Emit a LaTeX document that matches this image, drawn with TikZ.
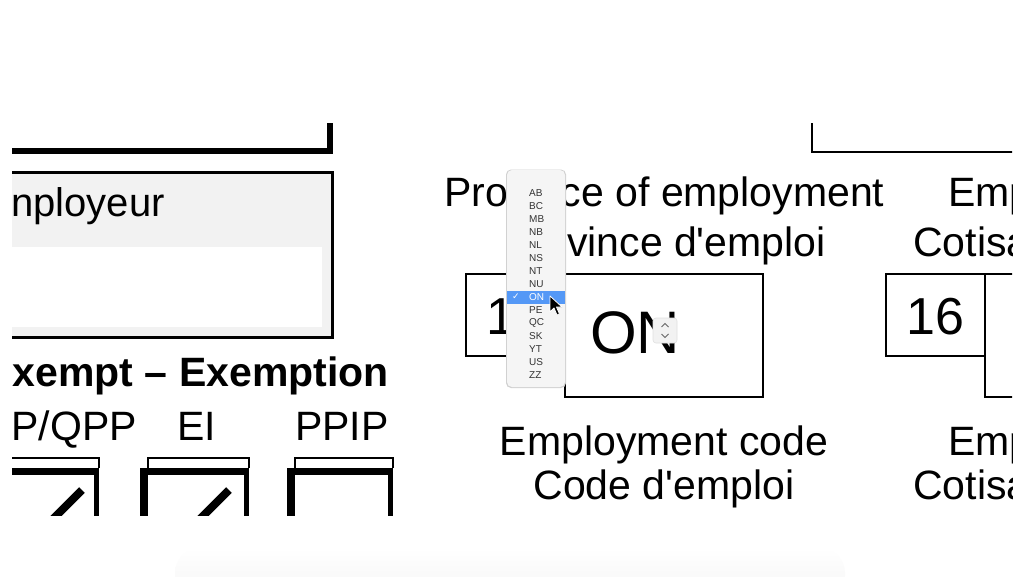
\documentclass[tikz,border=0pt]{standalone}
\usepackage{fontspec}
\setmainfont{Liberation Sans}[Ligatures=TeXOff]
\newfontfamily\symfont{DejaVu Sans}
\definecolor{selblue}{RGB}{84,152,246}
\begin{document}
\begin{tikzpicture}[x=1pt, y=-1pt,
  lbl/.style={inner sep=0pt, anchor=base, font=\fontsize{41}{49}\selectfont},
  big/.style={inner sep=0pt, anchor=base, font=\fontsize{52}{60}\selectfont},
  item/.style={inner sep=0pt, anchor=west, font=\fontsize{10}{12}\selectfont},
  frame/.style={line width=2.5pt, line join=miter}]
\useasboundingbox (0,0) rectangle (1024,576);
\fill[white] (0,0) rectangle (1024,576);

% faint shadow at the bottom
\shade[top color=white, bottom color=black!4, rounded corners=25pt] (175,548) -- (175,600) -- (845,600) -- (845,548) -- cycle;

\begin{scope}
\clip (12,123) rectangle (1012,515);

% left part of the form
\draw[line width=6pt, line join=miter] (0,151) -- (330,151) -- (330,110);
\fill[black!5] (0,172) rectangle (332,337);
\fill[white] (0,247) rectangle (322,327);
\draw[line width=3pt, line join=miter] (0,172) -- (332,172) -- (332,337) -- (0,337);
\node[lbl, anchor=base east, font=\fontsize{40}{48}\selectfont] (employeur) at (165,216) {nployeur};
\node[lbl, anchor=base east, font=\fontsize{41}{49}\selectfont\bfseries] (exempt) at (389,386) {xempt – Exemption};
\node[lbl, anchor=base east] (cpp) at (137,440) {P/QPP};
\node[lbl] (ei) at (197,440) {EI};
\node[lbl] (ppip) at (342,440) {PPIP};

% check boxes
\foreach \a/\b in {-10/99, 140/249, 287/393} {
  \draw[line width=1.2pt] (\a+8,468) -- (\a+8,458) -- (\b,458) -- (\b,468);
  \draw[line width=7pt] (\a,471.5) -- (\b,471.5);
  \draw[line width=8pt] (\a+4,468) -- (\a+4,530);
  \draw[line width=5pt] (\b-2.5,468) -- (\b-2.5,530);
}
\draw[line width=8pt] (50,522) -- (82,490);
\draw[line width=8pt] (197,522) -- (229,490);

% province of employment
\node[lbl] (prov1) at (664.5,206) {Province of employment};
\node[lbl] (prov2) at (664.5,256) {Province d'emploi};
\draw[frame] (466,274) rectangle (565,356);
\draw[frame] (565,274) rectangle (763,397);
\node[big] (num1) at (515.5,334) {16};
\node[inner sep=0pt, anchor=base, font=\fontsize{60}{70}\selectfont] (prov) at (635,353) {ON};
\filldraw[fill=black!5, draw=black!12, line width=0.6pt, rounded corners=3pt] (653,318) rectangle (677,343);
\draw[black!60, line width=0.9pt] (661.5,327) -- (665,323.5) -- (668.5,327);
\draw[black!60, line width=0.9pt] (661.5,334) -- (665,337.5) -- (668.5,334);
\node[lbl] (code1) at (664,455) {Employment code};
\node[lbl] (code2) at (664,499) {Code d'emploi};

% right part of the form
\draw[line width=2pt, line join=miter] (812,110) -- (812,152) -- (1020,152);
\draw[frame] (886,274) rectangle (985,356);
\draw[frame] (1020,274) -- (985,274) -- (985,397) -- (1020,397);
\node[big] (num2) at (935.5,334) {16};
\node[lbl, anchor=base west] (contr1) at (948,206) {Emp};
\node[lbl, anchor=base west] (contr2) at (913,256) {Cotisa};
\node[lbl, anchor=base west] (contr3) at (948,455) {Emp};
\node[lbl, anchor=base west] (contr4) at (913,499) {Cotisa};
\end{scope}

% drop-down list
\fill[black!18, rounded corners=5pt] (506,169.5) rectangle (566,388);
\fill[black!4, rounded corners=5pt] (507,170) rectangle (565,387);
\fill[selblue] (507,290.5) rectangle (565,303.5);
\node[inner sep=0pt, text=white, font=\symfont\fontsize{9}{10}\selectfont] (tick) at (516,297) {✓};
\foreach \t/\c [count=\i from 0] in {AB/black!80, BC/black!80, MB/black!80, NB/black!80,
    NL/black!80, NS/black!80, NT/black!80, NU/black!80, ON/white, PE/black!80,
    QC/black!80, SK/black!80, YT/black!80, US/black!80, ZZ/black!80}
  \node[item, text=\c] (item-\t) at (529,193+13*\i) {\t};

% mouse pointer
\filldraw[fill=black, draw=white, line width=0.8pt, line join=round]
  (550,296) -- (550,312) -- (554,308) -- (557,315) -- (559.5,314) -- (556.5,307) -- (562,307) -- cycle;
\end{tikzpicture}
\end{document}
